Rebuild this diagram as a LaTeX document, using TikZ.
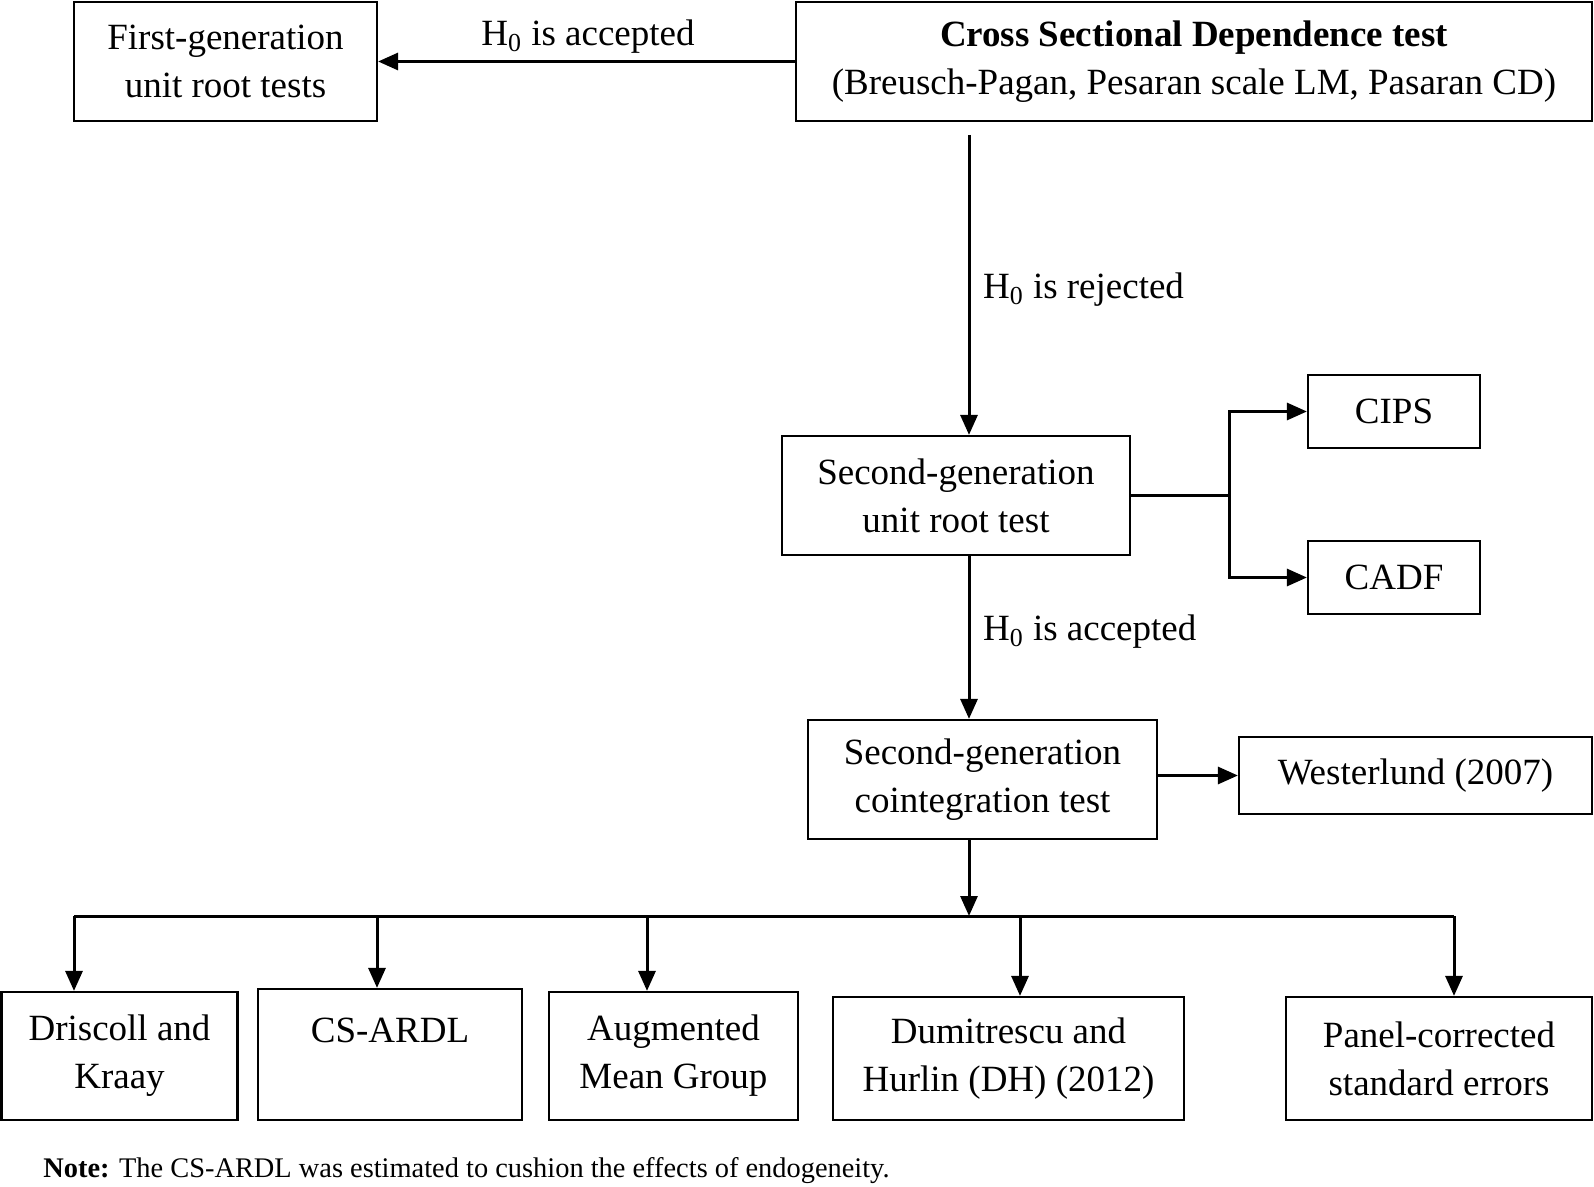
\documentclass[tikz,border=0pt]{standalone}
\usepackage{fontspec}
\setmainfont{Liberation Serif}
\usetikzlibrary{arrows.meta}
\tikzset{
  box/.style={draw, line width=1.1pt, align=center, inner sep=0pt, font=\fontsize{18.5}{24}\selectfont},
  link/.style={line width=1.5pt, -{Triangle[length=10pt,width=8.5pt]}},
  lbl/.style={font=\fontsize{18.5}{24}\selectfont}
}
\begin{document}
\begin{tikzpicture}[x=0.5pt,y=-0.5pt]
  \useasboundingbox (0,0) rectangle (1594,1187);
  % boxes
  \node[box, minimum width=151.5pt, minimum height=59.5pt] (first) at (225.5,61.5) {First-generation\\unit root tests};
  \node[box, minimum width=398pt, minimum height=59.5pt] (cross) at (1194,61.5) {\textbf{Cross Sectional Dependence test}\\(Breusch-Pagan, Pesaran scale LM, Pasaran CD)};
  \node[box, minimum width=174pt, minimum height=59.5pt] (sgur) at (956,495.5) {Second-generation\\unit root test};
  \node[box, minimum width=86pt, minimum height=36.5pt] (cips) at (1394,411.5) {CIPS};
  \node[box, minimum width=86pt, minimum height=36.5pt] (cadf) at (1394,577.5) {CADF};
  \node[box, minimum width=174.5pt, minimum height=59.5pt] (sgct) at (982.5,779.5) {Second-generation\\cointegration test};
  \node[box, minimum width=176.5pt, minimum height=38.5pt] (west) at (1415.5,775.5) {Westerlund (2007)};
  \node[box, minimum width=118pt, minimum height=64pt] (dk) at (119.5,1056) {Driscoll and\\Kraay};
  \node[box, minimum width=132pt, minimum height=65.5pt] (csardl) at (390,1054.5) {CS-ARDL\\~};
  \node[box, minimum width=124.5pt, minimum height=64pt] (amg) at (673.5,1056) {Augmented\\Mean Group};
  \node[box, minimum width=175.5pt, minimum height=61.5pt] (dh) at (1008.5,1058.5) {Dumitrescu and\\Hurlin (DH) (2012)};
  \node[box, minimum width=153pt, minimum height=61.5pt] (panel) at (1439,1058.5) {Panel-corrected\\standard errors};
  % labels
  \node[lbl] (acc1) at (588,37) {H\textsubscript{0} is accepted};
  \node[lbl, anchor=west] (rej) at (976,290) {H\textsubscript{0} is rejected};
  \node[lbl, anchor=west] (acc2) at (976,632) {H\textsubscript{0} is accepted};
  \node[anchor=west, inner sep=0pt, font=\fontsize{14.2}{17}\selectfont] (note) at (43,1171) {\textbf{Note:} The CS-ARDL was estimated to cushion the effects of endogeneity.};
  % lines
  \coordinate (spine) at (969,135);
  \coordinate (bus) at (969,916);
  \coordinate (busL) at (74,916);
  \coordinate (busR) at (1454,916);
  \draw[link] (cross.west) -- (first.east);
  \draw[link] (spine) -- (spine |- sgur.north);
  \draw[link] (spine |- sgur.south) -- (spine |- sgct.north);
  \draw[link] (sgur.east) -- ++(98,0) |- (cips.west);
  \draw[link] (sgur.east) -- ++(98,0) |- (cadf.west);
  \draw[link] (sgct.east |- west.west) -- (west.west);
  \draw[link] (spine |- sgct.south) -- (bus);
  \draw[line width=1.5pt] (busL) -- (busR);
  \foreach \x/\b in {74/dk, 377/csardl, 647/amg, 1020/dh, 1454/panel} {
    \coordinate (drop) at (\x,916);
    \draw[link] (drop) -- (drop |- \b.north);
  }
\end{tikzpicture}
\end{document}
